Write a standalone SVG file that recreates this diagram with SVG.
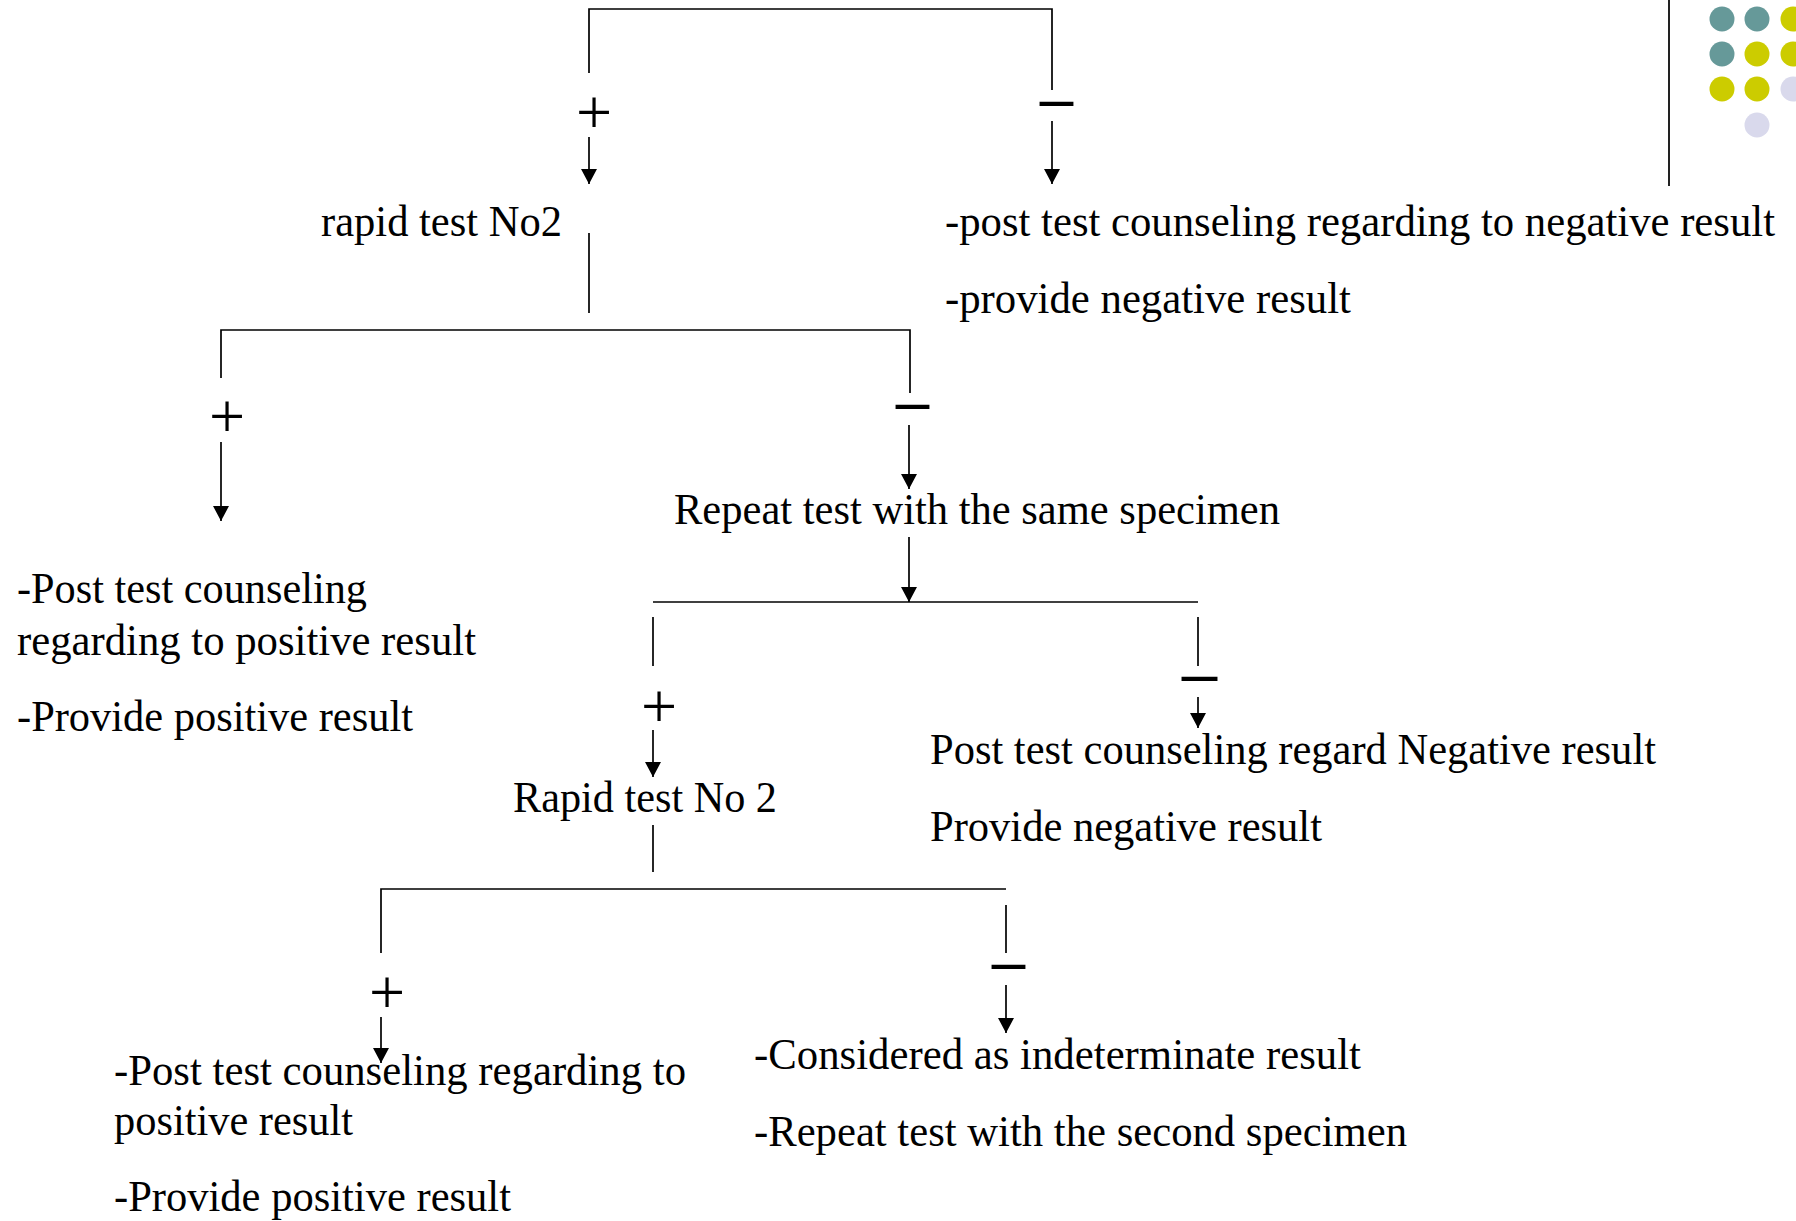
<svg xmlns="http://www.w3.org/2000/svg" width="1796" height="1221" viewBox="0 0 1796 1221">
<style>
.t{font-family:"Liberation Serif","Times New Roman",serif;font-size:45px;fill:#000}
.p{font-family:"Liberation Serif","Times New Roman",serif;font-size:64px;fill:#000;text-anchor:middle}
.m{font-family:"Liberation Serif","Times New Roman",serif;font-size:60px;font-weight:bold;fill:#000}
.ln{fill:none;stroke:#000;stroke-width:1.7}
.ar{fill:none;stroke:#000;stroke-width:1.7;marker-end:url(#ah)}
</style>
<defs>
<marker id="ah" markerUnits="userSpaceOnUse" markerWidth="15" markerHeight="16" refX="15" refY="8" orient="auto" viewBox="0 0 15 16">
<path d="M0,0 L15,8 L0,16 Z" fill="#000"/>
</marker>
</defs>
<rect width="1796" height="1221" fill="#fff"/>
<g id="decor">
<line x1="1669" y1="0" x2="1669" y2="186" stroke="#222" stroke-width="2"/>
<circle cx="1722" cy="19" r="12.5" fill="#669999"/>
<circle cx="1757" cy="19" r="12.5" fill="#669999"/>
<circle cx="1793" cy="19" r="12.5" fill="#CCCC00"/>
<circle cx="1722" cy="54" r="12.5" fill="#669999"/>
<circle cx="1757" cy="54" r="12.5" fill="#CCCC00"/>
<circle cx="1793" cy="54" r="12.5" fill="#CCCC00"/>
<circle cx="1722" cy="89" r="12.5" fill="#CCCC00"/>
<circle cx="1757" cy="89" r="12.5" fill="#CCCC00"/>
<circle cx="1793" cy="89" r="12.5" fill="#D9D9EC"/>
<circle cx="1757" cy="125" r="12.5" fill="#D9D9EC"/>
</g>
<g id="connectors">
<polyline class="ln" points="589,73 589,9 1052,9 1052,90"/>
<line class="ar" x1="589" y1="137" x2="589" y2="184"/>
<line class="ar" x1="1052" y1="121" x2="1052" y2="184"/>
<line class="ln" x1="589" y1="233" x2="589" y2="313"/>
<polyline class="ln" points="221,378 221,330 910,330 910,393"/>
<line class="ar" x1="221" y1="442" x2="221" y2="521"/>
<line class="ar" x1="909" y1="425" x2="909" y2="489"/>
<line class="ar" x1="909" y1="537" x2="909" y2="602"/>
<line class="ln" x1="653" y1="602" x2="1198" y2="602"/>
<line class="ln" x1="653" y1="617" x2="653" y2="666"/>
<line class="ln" x1="1198" y1="617" x2="1198" y2="666"/>
<line class="ar" x1="653" y1="730" x2="653" y2="777"/>
<line class="ar" x1="1198" y1="697" x2="1198" y2="728"/>
<line class="ln" x1="653" y1="825" x2="653" y2="872"/>
<polyline class="ln" points="381,953 381,889 1006,889"/>
<line class="ln" x1="1006" y1="905" x2="1006" y2="953"/>
<line class="ar" x1="381" y1="1017" x2="381" y2="1063"/>
<line class="ar" x1="1006" y1="985" x2="1006" y2="1033"/>
</g>
<g id="signs">
<text class="p" x="594" y="134">+</text>
<text class="m" x="1040" y="118" textLength="33" lengthAdjust="spacingAndGlyphs">–</text>
<text class="p" x="227" y="438">+</text>
<text class="m" x="896" y="421" textLength="33" lengthAdjust="spacingAndGlyphs">–</text>
<text class="p" x="659" y="728">+</text>
<text class="m" x="1182" y="693" textLength="35" lengthAdjust="spacingAndGlyphs">–</text>
<text class="p" x="387" y="1014">+</text>
<text class="m" x="992" y="981" textLength="33" lengthAdjust="spacingAndGlyphs">–</text>
</g>
<g id="n-rapid1"><text class="t" x="321" y="236" textLength="241" lengthAdjust="spacingAndGlyphs">rapid test No2</text></g>
<g id="n-neg1">
<text class="t" x="945" y="236" textLength="830" lengthAdjust="spacingAndGlyphs">-post test counseling regarding to negative result</text>
<text class="t" x="945" y="313" textLength="406" lengthAdjust="spacingAndGlyphs">-provide negative result</text>
</g>
<g id="n-pos1">
<text class="t" x="17" y="603" textLength="350" lengthAdjust="spacingAndGlyphs">-Post test counseling</text>
<text class="t" x="17" y="655" textLength="459" lengthAdjust="spacingAndGlyphs">regarding to positive result</text>
<text class="t" x="17" y="731" textLength="396" lengthAdjust="spacingAndGlyphs">-Provide positive result</text>
</g>
<g id="n-repeat"><text class="t" x="674" y="524" textLength="606" lengthAdjust="spacingAndGlyphs">Repeat test with the same specimen</text></g>
<g id="n-neg2">
<text class="t" x="930" y="764" textLength="726" lengthAdjust="spacingAndGlyphs">Post test counseling regard Negative result</text>
<text class="t" x="930" y="841" textLength="392" lengthAdjust="spacingAndGlyphs">Provide negative result</text>
</g>
<g id="n-rapid2"><text class="t" x="513" y="812" textLength="264" lengthAdjust="spacingAndGlyphs">Rapid test No 2</text></g>
<g id="n-pos2">
<text class="t" x="114" y="1085" textLength="572" lengthAdjust="spacingAndGlyphs">-Post test counseling regarding to</text>
<text class="t" x="114" y="1135" textLength="239" lengthAdjust="spacingAndGlyphs">positive result</text>
<text class="t" x="114" y="1211" textLength="397" lengthAdjust="spacingAndGlyphs">-Provide positive result</text>
</g>
<g id="n-indet">
<text class="t" x="754" y="1069" textLength="607" lengthAdjust="spacingAndGlyphs">-Considered as indeterminate result</text>
<text class="t" x="754" y="1146" textLength="653" lengthAdjust="spacingAndGlyphs">-Repeat test with the second specimen</text>
</g>
</svg>
